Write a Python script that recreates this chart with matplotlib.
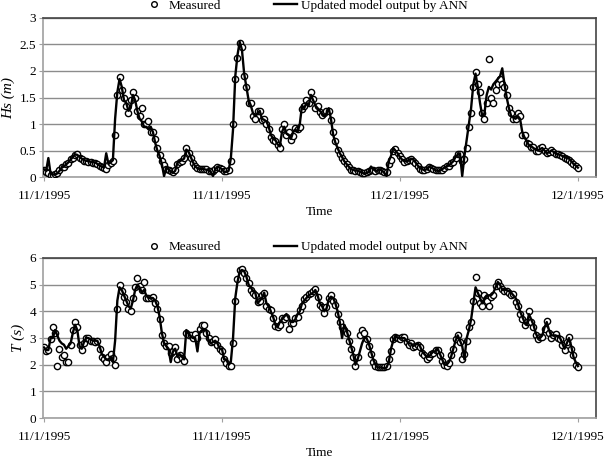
import numpy as np
import matplotlib
matplotlib.use("Agg")
import matplotlib.pyplot as plt

# 3-hourly samples from 11/1/1995 to 12/1/1995 (days since 11/1)
days = np.arange(241) / 8.0

tick_days = [0, 10, 20, 30]
tick_labels = ["11/1/1995", "11/11/1995", "11/21/1995", "12/1/1995"]

# wave height Hs (m), one row per day
hs_model = [
    0.15, 0.12, 0.36, 0.06, 0.05, 0.05, 0.07, 0.12,
    0.18, 0.20, 0.24, 0.28, 0.33, 0.38, 0.43, 0.42,
    0.38, 0.35, 0.32, 0.31, 0.30, 0.29, 0.28, 0.28,
    0.25, 0.22, 0.20, 0.18, 0.45, 0.25, 0.28, 0.32,
    1.10, 1.60, 1.85, 1.70, 1.45, 1.40, 1.25, 1.30,
    1.55, 1.45, 1.25, 1.10, 1.05, 0.95, 0.95, 0.90,
    0.95, 0.85, 0.65, 0.50, 0.40, 0.25, 0.02, 0.18,
    0.15, 0.10, 0.08, 0.12, 0.27, 0.30, 0.32, 0.35,
    0.52, 0.48, 0.38, 0.28, 0.20, 0.17, 0.15, 0.16,
    0.15, 0.14, 0.13, 0.10, 0.02, 0.15, 0.20, 0.18,
    0.15, 0.10, 0.10, 0.12, 0.35, 0.90, 1.90, 2.30,
    2.55, 2.40, 1.95, 1.70, 1.45, 1.35, 1.20, 1.15,
    1.20, 1.25, 1.10, 1.08, 1.05, 0.95, 0.80, 0.72,
    0.70, 0.62, 0.58, 0.85, 0.95, 0.82, 0.80, 0.72,
    0.85, 0.90, 0.85, 1.00, 1.35, 1.30, 1.40, 1.35,
    1.55, 1.45, 1.35, 1.30, 1.25, 1.20, 1.15, 1.20,
    1.30, 1.10, 0.80, 0.65, 0.55, 0.45, 0.38, 0.30,
    0.25, 0.20, 0.15, 0.14, 0.12, 0.13, 0.10, 0.09,
    0.06, 0.08, 0.10, 0.20, 0.15, 0.12, 0.12, 0.15,
    0.12, 0.08, 0.02, 0.30, 0.40, 0.55, 0.50, 0.45,
    0.38, 0.33, 0.30, 0.30, 0.32, 0.35, 0.33, 0.28,
    0.22, 0.17, 0.15, 0.13, 0.15, 0.20, 0.18, 0.16,
    0.13, 0.12, 0.12, 0.15, 0.18, 0.20, 0.22, 0.26,
    0.30, 0.38, 0.42, 0.45, 0.02, 0.40, 0.70, 1.00,
    1.30, 1.75, 1.95, 1.70, 1.40, 1.15, 1.20, 1.55,
    1.70, 1.65, 1.75, 1.80, 1.85, 1.90, 2.05, 1.75,
    1.50, 1.30, 1.15, 1.12, 1.10, 1.15, 1.10, 0.85,
    0.75, 0.68, 0.60, 0.58, 0.55, 0.52, 0.50, 0.53,
    0.55, 0.50, 0.45, 0.47, 0.50, 0.48, 0.45, 0.43,
    0.42, 0.40, 0.38, 0.36, 0.35, 0.30, 0.25, 0.22,
    0.18,
]
hs_meas = [
    0.14, 0.10, 0.08, 0.05, 0.05, 0.06, 0.07, 0.13,
    0.19, 0.19, 0.25, 0.27, 0.34, 0.37, 0.42, 0.43,
    0.37, 0.34, 0.31, 0.30, 0.29, 0.28, 0.27, 0.27,
    0.24, 0.21, 0.19, 0.17, 0.16, 0.22, 0.27, 0.30,
    0.80, 1.55, 1.88, 1.65, 1.50, 1.35, 1.20, 1.45,
    1.60, 1.50, 1.25, 1.15, 1.30, 1.00, 1.00, 1.05,
    0.85, 0.85, 0.72, 0.55, 0.42, 0.30, 0.22, 0.15,
    0.14, 0.11, 0.09, 0.13, 0.25, 0.28, 0.31, 0.36,
    0.55, 0.46, 0.36, 0.27, 0.21, 0.17, 0.16, 0.15,
    0.16, 0.15, 0.12, 0.12, 0.12, 0.16, 0.19, 0.18,
    0.16, 0.11, 0.11, 0.13, 0.30, 1.00, 1.85, 2.25,
    2.52, 2.45, 1.90, 1.70, 1.40, 1.40, 1.15, 1.10,
    1.25, 1.25, 1.08, 1.10, 1.00, 0.90, 0.75, 0.70,
    0.68, 0.60, 0.55, 0.90, 1.00, 0.80, 0.85, 0.70,
    0.78, 0.92, 0.90, 0.95, 1.28, 1.35, 1.45, 1.40,
    1.60, 1.48, 1.30, 1.35, 1.22, 1.18, 1.20, 1.25,
    1.25, 1.08, 0.85, 0.68, 0.52, 0.44, 0.36, 0.31,
    0.24, 0.19, 0.14, 0.13, 0.11, 0.12, 0.09, 0.08,
    0.07, 0.09, 0.11, 0.13, 0.14, 0.11, 0.13, 0.14,
    0.11, 0.10, 0.10, 0.25, 0.32, 0.50, 0.53, 0.45,
    0.40, 0.34, 0.29, 0.31, 0.33, 0.34, 0.31, 0.27,
    0.21, 0.16, 0.14, 0.14, 0.16, 0.19, 0.17, 0.15,
    0.14, 0.13, 0.13, 0.14, 0.17, 0.21, 0.21, 0.27,
    0.29, 0.37, 0.44, 0.43, 0.30, 0.35, 0.55, 0.95,
    1.20, 1.70, 1.98, 1.75, 1.60, 1.20, 1.10, 1.40,
    2.22, 1.50, 1.40, 1.65, 1.75, 1.85, 1.75, 1.70,
    1.55, 1.30, 1.20, 1.10, 1.10, 1.20, 1.15, 0.80,
    0.80, 0.65, 0.62, 0.57, 0.57, 0.50, 0.50, 0.55,
    0.56, 0.49, 0.46, 0.48, 0.52, 0.47, 0.44, 0.44,
    0.41, 0.39, 0.37, 0.35, 0.33, 0.29, 0.24, 0.21,
    0.17,
]

# wave period T (s), one row per day
t_model = [
    2.65, 2.55, 2.55, 3.00, 3.00, 3.30, 3.10, 2.90,
    2.80, 2.75, 2.60, 2.70, 2.80, 3.20, 3.50, 3.30,
    2.70, 2.60, 2.85, 3.00, 3.00, 2.95, 2.90, 2.90,
    2.90, 2.70, 2.40, 2.30, 2.20, 2.20, 2.30, 2.10,
    2.90, 4.40, 4.90, 4.80, 4.60, 4.40, 4.20, 4.10,
    4.40, 4.80, 5.00, 4.90, 4.70, 4.80, 4.60, 4.50,
    4.50, 4.50, 4.40, 4.20, 3.80, 3.20, 2.80, 2.70,
    2.60, 2.10, 2.50, 2.60, 2.30, 2.40, 2.30, 2.20,
    3.30, 3.20, 3.05, 3.00, 3.00, 2.50, 3.20, 3.30,
    3.30, 3.30, 2.90, 2.80, 2.85, 2.90, 2.80, 2.60,
    2.60, 2.20, 2.20, 2.00, 2.10, 3.00, 4.50, 5.10,
    5.50, 5.55, 5.50, 5.30, 5.00, 4.90, 4.75, 4.70,
    4.30, 4.40, 4.50, 4.70, 4.30, 4.20, 4.00, 3.80,
    3.50, 3.40, 3.60, 3.70, 3.80, 3.90, 3.75, 3.60,
    3.60, 3.70, 3.90, 4.00, 4.30, 4.40, 4.50, 4.60,
    4.65, 4.70, 4.80, 4.60, 4.30, 4.20, 4.00, 4.10,
    4.45, 4.55, 4.50, 4.30, 4.00, 3.60, 3.00, 3.50,
    3.30, 3.00, 2.70, 2.40, 2.00, 2.20, 2.50, 2.80,
    3.00, 3.00, 2.80, 2.50, 2.20, 2.00, 1.90, 1.90,
    1.90, 1.85, 1.90, 2.10, 2.60, 2.90, 3.10, 3.00,
    3.00, 3.00, 3.00, 2.90, 2.80, 2.80, 2.70, 2.75,
    2.80, 2.70, 2.50, 2.40, 2.30, 2.30, 2.40, 2.50,
    2.50, 2.60, 2.40, 2.20, 2.00, 2.00, 2.10, 2.30,
    2.60, 2.90, 3.10, 2.90, 2.70, 2.20, 3.00, 3.30,
    3.70, 4.30, 4.90, 4.70, 4.50, 4.30, 4.50, 4.60,
    4.60, 4.60, 4.70, 4.90, 5.10, 5.00, 4.80, 4.80,
    4.80, 4.75, 4.70, 4.60, 4.50, 4.30, 4.00, 3.80,
    3.60, 3.50, 3.90, 3.70, 3.50, 3.20, 3.00, 3.00,
    3.10, 3.40, 3.60, 3.30, 3.10, 3.10, 3.10, 3.05,
    3.00, 2.80, 2.60, 2.80, 3.00, 2.70, 2.30, 2.10,
    1.95,
]
t_meas = [
    2.65, 2.50, 2.55, 2.95, 3.40, 3.20, 1.95, 2.60,
    2.30, 2.35, 2.10, 2.10, 2.75, 3.30, 3.60, 3.40,
    2.75, 2.55, 2.80, 3.00, 3.00, 2.90, 2.90, 2.85,
    2.90, 2.60, 2.30, 2.20, 2.10, 2.30, 2.40, 2.25,
    2.00, 4.10, 5.00, 4.75, 4.55, 4.35, 4.10, 4.00,
    4.50, 4.90, 5.25, 4.95, 4.80, 5.10, 4.50, 4.50,
    4.50, 4.55, 4.30, 4.10, 3.70, 3.10, 2.80, 2.70,
    2.70, 2.45, 2.50, 2.65, 2.20, 2.35, 2.25, 2.15,
    3.20, 3.10, 3.10, 3.00, 3.15, 3.00, 3.35, 3.50,
    3.50, 3.20, 3.00, 2.85, 2.90, 2.95, 2.75, 2.60,
    2.50, 2.20, 2.05, 1.95, 1.95, 2.80, 4.40, 5.20,
    5.55, 5.60, 5.45, 5.25, 5.05, 4.80, 4.70, 4.60,
    4.35, 4.40, 4.60, 4.70, 4.20, 4.10, 4.05, 3.75,
    3.45, 3.40, 3.50, 3.75, 3.70, 3.80, 3.35, 3.55,
    3.55, 3.75, 3.80, 4.05, 4.20, 4.45, 4.55, 4.65,
    4.70, 4.75, 4.85, 4.55, 4.25, 4.15, 3.95, 4.15,
    4.50, 4.60, 4.40, 4.25, 3.90, 3.60, 3.40, 3.30,
    3.20, 2.90, 2.60, 2.30, 1.95, 2.30, 3.10, 3.30,
    3.20, 2.95, 2.70, 2.40, 2.10, 1.95, 1.90, 1.90,
    1.90, 1.90, 1.95, 2.20, 2.50, 2.95, 3.05, 3.00,
    2.95, 3.05, 3.05, 2.85, 2.75, 2.80, 2.65, 2.70,
    2.75, 2.65, 2.45, 2.35, 2.20, 2.30, 2.40, 2.45,
    2.55, 2.55, 2.35, 2.15, 2.00, 1.95, 2.05, 2.35,
    2.60, 2.95, 3.10, 2.85, 2.20, 2.40, 2.90, 3.40,
    3.60, 4.40, 5.30, 4.70, 4.30, 4.20, 4.60, 4.40,
    4.20, 4.55, 4.60, 4.95, 5.10, 4.95, 4.85, 4.75,
    4.75, 4.70, 4.60, 4.65, 4.35, 4.20, 3.90, 3.70,
    3.50, 3.60, 4.00, 3.60, 3.40, 3.10, 2.95, 3.05,
    3.05, 3.35, 3.65, 3.20, 3.00, 3.10, 3.15, 3.00,
    2.95, 2.75, 2.55, 2.85, 3.05, 2.60, 2.35, 2.00,
    1.90,
]

plt.rcParams["font.family"] = "Liberation Serif"
plt.rcParams["font.size"] = 9.5

fig = plt.figure(figsize=(6.06, 4.59), dpi=100)
ax1 = fig.add_axes([0.071, 0.614, 0.912, 0.347])
ax2 = fig.add_axes([0.071, 0.089, 0.912, 0.349])


def style_panel(ax, meas, model, ylim, ystep, ylabel, yfmt, leg_y):
    ax.plot(days, meas, linestyle="none", marker="o", markersize=4.5,
            markerfacecolor="white", markeredgecolor="black",
            markeredgewidth=1.0, label="Measured", zorder=3)
    ax.plot(days, model, color="black", linewidth=1.7,
            label="Updated model output by ANN", zorder=4)
    ax.set_xlim(-0.05, 31)
    ax.set_ylim(*ylim)
    yt = np.arange(ylim[0], ylim[1] + ystep / 2, ystep)
    ax.set_yticks(yt)
    ax.set_yticklabels([yfmt(v) for v in yt])
    ax.set_xticks(tick_days)
    ax.set_xticklabels(tick_labels)
    ax.grid(axis="y", color="#8c8c8c", linewidth=1.0)
    ax.set_axisbelow(True)
    for side in ("top", "right"):
        ax.spines[side].set_color("#444444")
        ax.spines[side].set_linewidth(1.2)
    for side in ("left", "bottom"):
        ax.spines[side].set_color("#a0a0a0")
        ax.spines[side].set_linewidth(1.2)
    ax.tick_params(axis="y", direction="out", length=3, color="#a0a0a0",
                   pad=2)
    ax.tick_params(axis="x", direction="out", length=3, color="#a0a0a0",
                   pad=6)
    ax.set_xlabel("Time", labelpad=3)
    ax.set_ylabel(ylabel, fontstyle="italic", fontsize=11, labelpad=3)
    ax.legend(loc="lower center", bbox_to_anchor=(0.474, leg_y), ncol=2,
              frameon=False, columnspacing=4.0, handlelength=1.7,
              borderaxespad=0, handletextpad=0.3, markerscale=0.9)


style_panel(ax1, hs_meas, hs_model, (0, 3), 0.5, "Hs (m)",
            lambda v: "0" if v == 0 else ("%g" % v), 1.005)
style_panel(ax2, t_meas, t_model, (0, 6), 1, "T (s)",
            lambda v: "%d" % v, 0.995)

fig.savefig("out.png", dpi=100)
